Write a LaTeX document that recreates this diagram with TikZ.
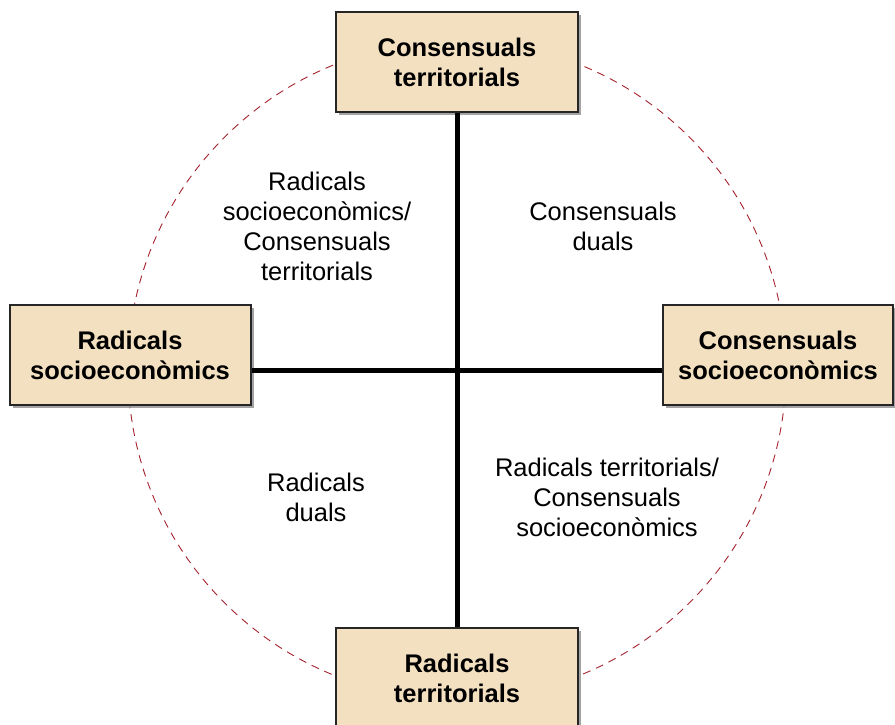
\documentclass[tikz,border=0pt]{standalone}
\usepackage{fontspec}
\setmainfont{Liberation Sans}
\usetikzlibrary{shadows}
\definecolor{boxfill}{RGB}{243,224,193}
\definecolor{ringred}{RGB}{165,35,45}
\tikzset{
every picture/.style={
x=1pt, y=-1pt
},
pole/.style={draw=black!85, line width=2pt, fill=boxfill, minimum height=100pt,
  align=center, font=\bfseries\fontsize{25.5}{30}\selectfont,
  drop shadow={shadow xshift=3pt, shadow yshift=-3pt, fill=black!45, opacity=0.8}},
zone/.style={align=center, font=\fontsize{25.5}{30}\selectfont},
axis/.style={line width=5pt},
ring/.style={draw=ringred, dash pattern=on 8pt off 6pt, line width=0.9pt}
}

\begin{document}
\begin{tikzpicture}
\useasboundingbox (0,0) rectangle (895,724);
\clip (0,0) rectangle (895,724);

\coordinate (c) at (457,370);
\draw[ring] (c) circle (329pt);

\foreach \px/\py/\w/\t [count=\i] in {457/62/242/{Consensuals\\territorials}, 130/355/241/{Radicals\\socioeconòmics},
  778/355/230/{Consensuals\\socioeconòmics}, 457/678/242/{Radicals\\territorials}}{
  \node[pole, minimum width=\w pt] (p\i) at (\px,\py) {\t};
}

\draw[axis] (p1) -- (p4);
\draw[axis] (p2.east |- c) -- (p3.west |- c);

\node[zone] (q1) at (317,226) {Radicals\\socioeconòmics/\\Consensuals\\territorials};
\node[zone] (q2) at (603,226) {Consensuals\\duals};
\node[zone] (q3) at (316,497) {Radicals\\duals};
\node[zone] (q4) at (607,497) {Radicals territorials/\\Consensuals\\socioeconòmics};
\end{tikzpicture}
\end{document}
